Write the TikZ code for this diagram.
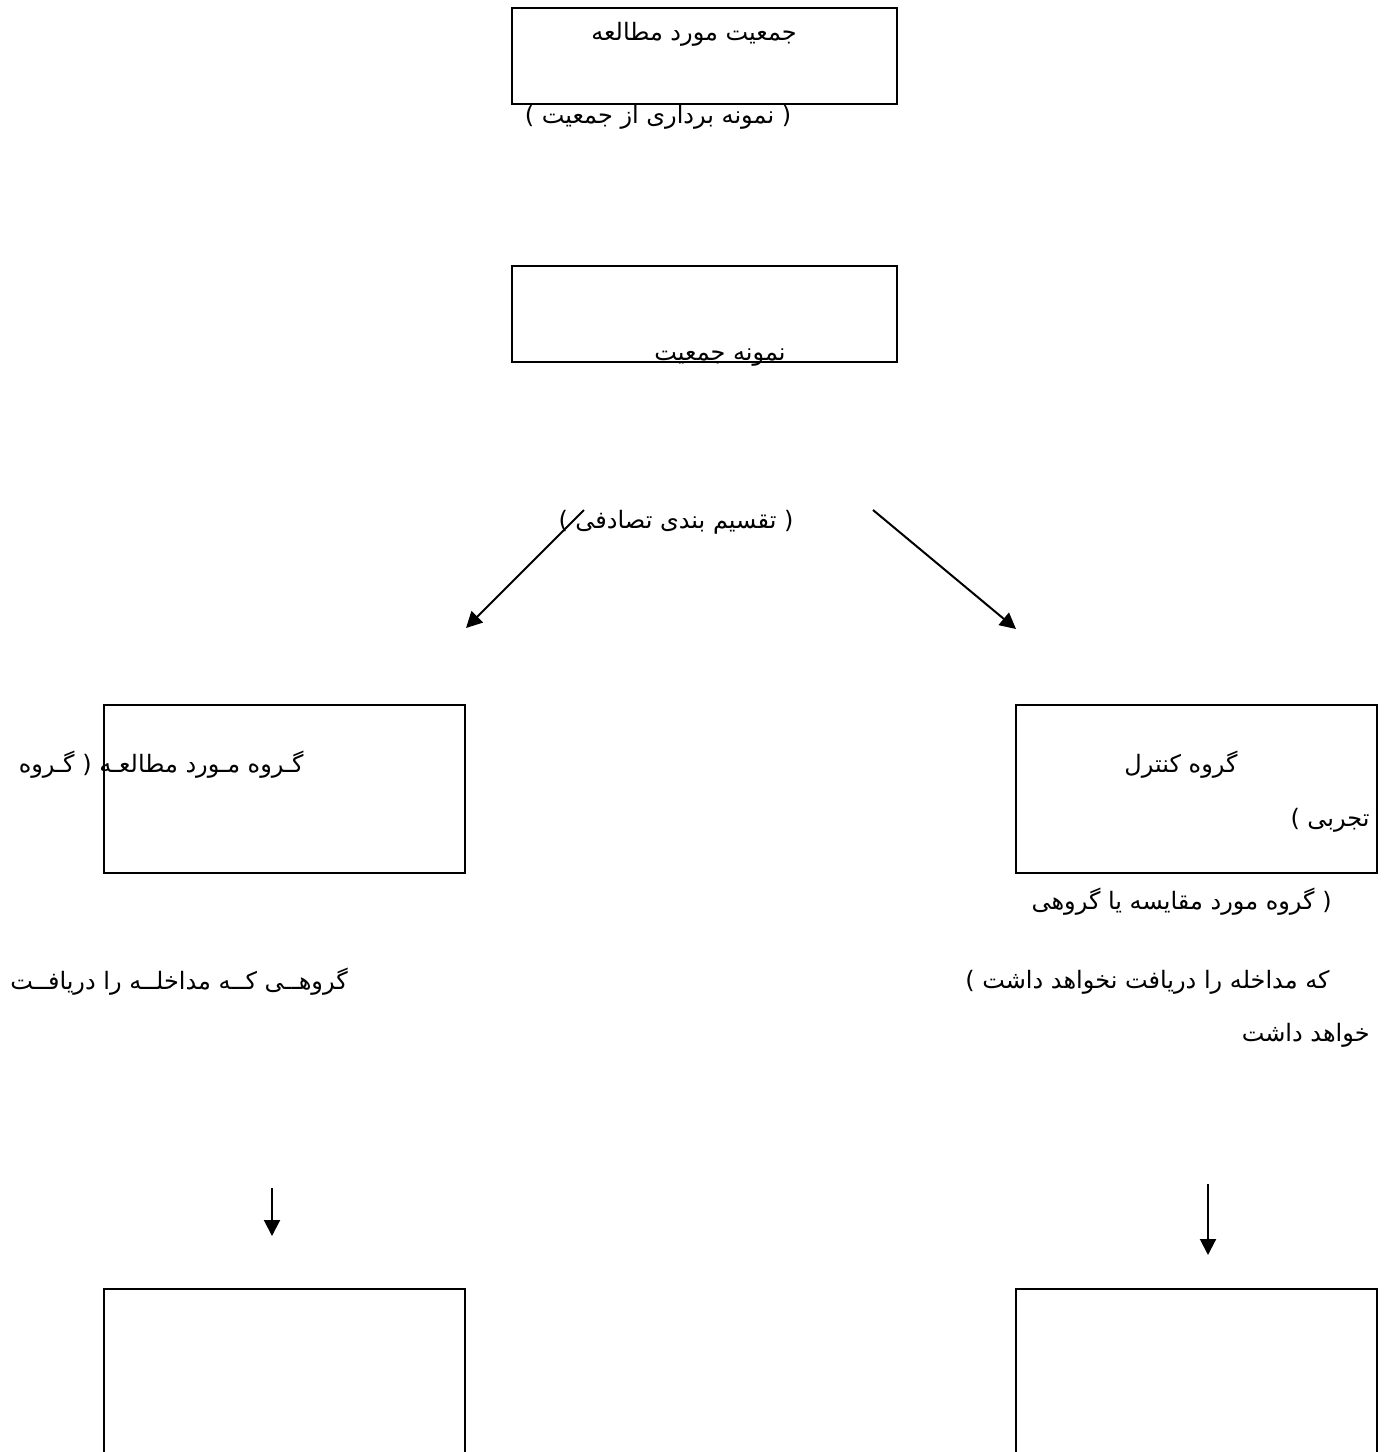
\documentclass[tikz,border=0pt]{standalone}
\usepackage{fontspec}
\usetikzlibrary{arrows.meta}
\TeXXeTstate=1
\newfontfamily\fafont[Script=Arabic]{DejaVu Sans}
\newcommand{\fa}[1]{{\fafont\beginR #1\endR}}
\tikzset{
  boxstyle/.style={draw=black, line width=1pt},
  lbl/.style={inner sep=0pt, font=\fontsize{12}{14}\selectfont},
  arr/.style={draw=black, line width=1pt, -{Triangle[length=8pt,width=8pt]}}
}
\begin{document}
\begin{tikzpicture}[x=0.5pt,y=-0.5pt]
\useasboundingbox (0,0) rectangle (1388,1452);
\fill[white] (0,0) rectangle (1388,1452);
\clip (0,0) rectangle (1388,1452);
% boxes
\draw[boxstyle] (512,8) rectangle (897,104);
\node (b1) at (704.5,56) {};
\draw[boxstyle] (512,266) rectangle (897,362);
\node (b2) at (704.5,314) {};
\draw[boxstyle] (104,705) rectangle (465,873);
\node (b3) at (284.5,789) {};
\draw[boxstyle] (1016,705) rectangle (1377,873);
\node (b4) at (1196.5,789) {};
\draw[boxstyle] (104,1289) rectangle (465,1480);
\draw[boxstyle] (1016,1289) rectangle (1377,1480);
% texts
\node[lbl] (t1) at (694,34) {\fa{جمعیت مورد مطالعه}};
\node[lbl] (t2) at (658,117) {\fa{( نمونه برداری از جمعیت )}};
\node[lbl] (t3) at (720,358) {\fa{نمونه جمعیت}};
\node[lbl] (t4) at (676,522) {\fa{( تقسیم بندی تصادفی )}};
\node[lbl, anchor=east] (t5) at (304,765) {\fa{گـروه مـورد مطالعـه ( گـروه}};
\node[lbl] (t6) at (1181,765) {\fa{گروه کنترل}};
\node[lbl, anchor=east] (t7) at (1370,820) {\fa{تجربی )}};
\node[lbl, anchor=east] (t8) at (1332,902) {\fa{( گروه مورد مقایسه یا گروهی}};
\node[lbl, anchor=east] (t9) at (1330,982) {\fa{که مداخله را دریافت نخواهد داشت )}};
\node[lbl, anchor=east] (t10) at (1370,1035) {\fa{خواهد داشت}};
\node[lbl, anchor=west] (t11) at (10,982) {\fa{گروهــی کــه مداخلــه را  دریافــت}};
% arrows
\coordinate (a1s) at (584,510);
\coordinate (a1e) at (466,628);
\coordinate (a2s) at (873,510);
\coordinate (a2e) at (1016,629);
\coordinate (a3s) at (272,1188);
\coordinate (a3e) at (272,1236);
\coordinate (a4s) at (1208,1184);
\coordinate (a4e) at (1208,1255);
\draw[arr] (a1s) -- (a1e);
\draw[arr] (a2s) -- (a2e);
\draw[arr] (a3s) -- (a3e);
\draw[arr] (a4s) -- (a4e);
\end{tikzpicture}
\end{document}
